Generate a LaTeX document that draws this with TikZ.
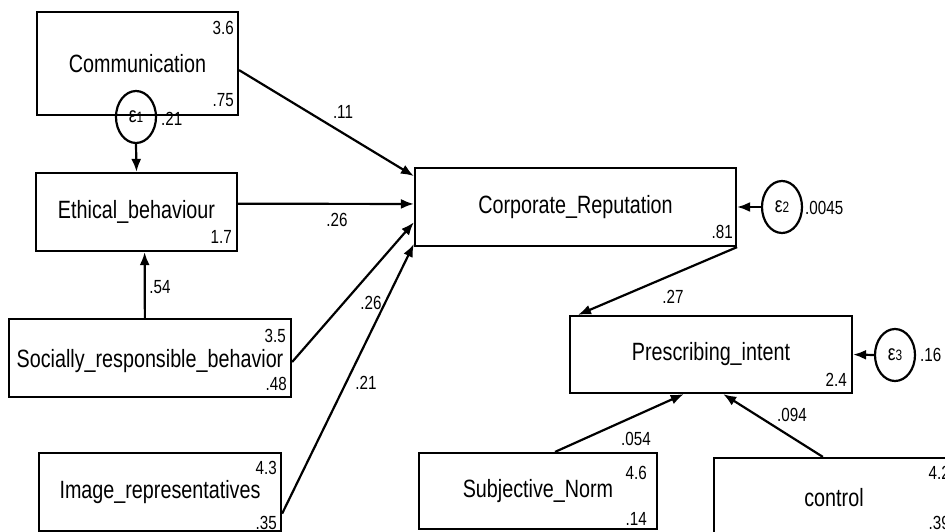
\documentclass[tikz,border=0pt]{standalone}
\usepackage{fontspec}
\setmainfont[FakeStretch=0.79]{Liberation Sans}
\newfontfamily\numfont[FakeStretch=0.8]{Liberation Sans}
\usetikzlibrary{arrows.meta,calc,shapes.geometric}
\begin{document}
\begin{tikzpicture}[x=1pt,y=-1pt,
  box/.style={draw, line width=2.2pt, rectangle, inner sep=0pt, font=\fontsize{25}{27}\selectfont},
  num/.style={font=\numfont\fontsize{19}{19}\selectfont, inner sep=0pt},
  err/.style={draw, ellipse, line width=2.2pt, minimum width=40pt, minimum height=52pt, inner sep=0pt},
  conn/.style={line width=2.2pt, -{Latex[length=13pt,width=10pt]}}
]
\useasboundingbox (0,0) rectangle (945,532);
\clip (0,0) rectangle (945,532);

% boxes
\node[box, minimum width=201pt, minimum height=103pt] (comm) at (137.5,63.5) {Communication};
\node[box, minimum width=201pt, minimum height=78pt] (eth) at (136.5,212) {Ethical\_behaviour};
\node[box, minimum width=282pt, minimum height=78pt] (soc) at (150,358) {\raisebox{-3pt}[\height][\depth]{Socially\_responsible\_behavior}};
\node[box, minimum width=242pt, minimum height=78pt] (img) at (160,492) {Image\_representatives};
\node[box, minimum width=321pt, minimum height=78pt] (corp) at (575.5,207) {Corporate\_Reputation};
\node[box, minimum width=282pt, minimum height=77pt] (pres) at (711,354.5) {Prescribing\_intent};
\node[box, minimum width=238pt, minimum height=76pt] (subj) at (538,491) {Subjective\_Norm};
\node[box, minimum width=240pt, minimum height=80pt] (ctrl) at (834,498) {control};

% error terms
\node[err] (e1) at (136,117) {{\fontsize{22}{22}\selectfont ε}{\fontsize{15}{15}\selectfont 1}};
\node[err] (e2) at (782,207) {{\fontsize{22}{22}\selectfont ε}{\fontsize{15}{15}\selectfont 2}};
\node[err] (e3) at (895,355) {{\fontsize{22}{22}\selectfont ε}{\fontsize{15}{15}\selectfont 3}};

% numbers in boxes
\node[num, anchor=east] (n1) at (234,28) {3.6};
\node[num, anchor=east] (n2) at (234,100) {.75};
\node[num, anchor=east] (n3) at (232,237) {1.7};
\node[num, anchor=east] (n4) at (286,336) {3.5};
\node[num, anchor=east] (n5) at (287,384) {.48};
\node[num, anchor=east] (n6) at (277,468) {4.3};
\node[num, anchor=east] (n7) at (277,523) {.35};
\node[num, anchor=east] (n8) at (733,232) {.81};
\node[num, anchor=east] (n9) at (847,380) {2.4};
\node[num, anchor=east] (n10) at (647,473) {4.6};
\node[num, anchor=east] (n11) at (647,519) {.14};
\node[num, anchor=east] (n12) at (950,473) {4.2};
\node[num, anchor=east] (n13) at (950,523) {.39};

% error variances
\node[num, anchor=west] (v1) at (161,118.5) {.21};
\node[num, anchor=west] (v2) at (805,208) {.0045};
\node[num, anchor=west] (v3) at (920,355) {.16};

% connectors
\draw[conn] ($(comm.north east)!0.563!(comm.south east)$) -- ($(corp.north west)!0.115!(corp.south west)$);
\draw[conn] ($(eth.north east)!0.397!(eth.south east)$) -- ($(corp.north west)!0.462!(corp.south west)$);
\draw[conn] ($(soc.north east)!0.55!(soc.south east)$) -- ($(corp.north west)!0.69!(corp.south west)$);
\draw[conn] ($(img.north east)!0.77!(img.south east)$) -- ($(corp.north west)!0.96!(corp.south west)$);
\draw[conn] ($(soc.north west)!0.482!(soc.north east)$) -- ($(eth.south west)!0.54!(eth.south east)$);
\draw[conn] (e1.south) -- (eth.north);
\draw[conn] (e2.west) -- (corp.east);
\draw[conn] (e3.west) -- (pres.east);
\draw[conn] (corp.south east) -- ($(pres.north west)!0.032!(pres.north east)$);
\draw[conn] ($(subj.north west)!0.571!(subj.north east)$) -- ($(pres.south west)!0.404!(pres.south east)$);
\draw[conn] ($(ctrl.north west)!0.454!(ctrl.north east)$) -- ($(pres.south west)!0.543!(pres.south east)$);

% path labels
\node[num] (l1) at (343,112) {.11};
\node[num] (l2) at (337,220) {.26};
\node[num] (l3) at (371,303) {.26};
\node[num] (l4) at (366,383) {.21};
\node[num] (l5) at (160,287) {.54};
\node[num] (l6) at (673,297) {.27};
\node[num] (l7) at (636,439) {.054};
\node[num] (l8) at (792,415) {.094};
\end{tikzpicture}
\end{document}
